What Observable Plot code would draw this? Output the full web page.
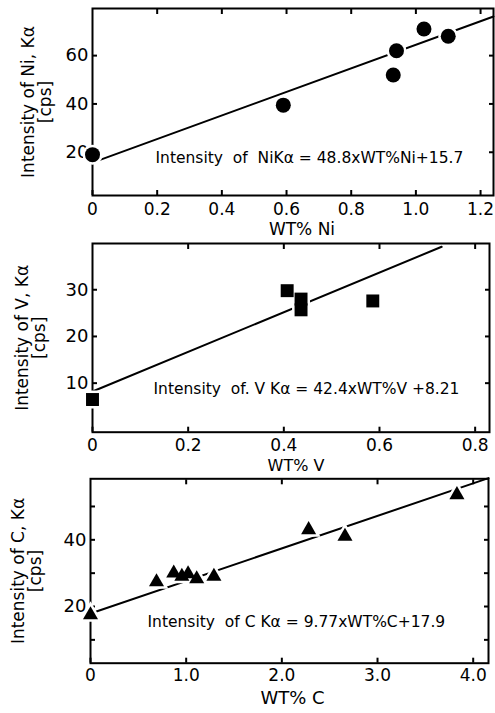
<!DOCTYPE html>
<html><head><meta charset="utf-8">
<script src="https://cdn.jsdelivr.net/npm/d3@7"></script>
<script src="https://cdn.jsdelivr.net/npm/@observablehq/plot@0.6"></script>
<style>
body{margin:0;background:#fff;}
#chart{width:495px;}
#chart svg{display:block;}
</style></head><body><div id="chart"></div>
<script>
// Panel 1: Ni
const niWt  = [0, 0.59, 0.93, 0.94, 1.025, 1.10];
const niInt = [19, 39.5, 52, 62, 71, 68];
const niFitX = [0, 1.24];
const niFitY = [15.7, 76.2];
const niXTicks = [0, 0.2, 0.4, 0.6, 0.8, 1.0, 1.2];
const niYTicks = [20, 40, 60];
const niYLabels = [20, 40, 60];
const niYTitle = "Intensity of Ni, Kα\n[cps]";
const niXTitle = "WT% Ni";
const niEq = "Intensity  of  NiKα = 48.8xWT%Ni+15.7";

// Panel 2: V
const vWt  = [0, 0.407, 0.436, 0.436, 0.586];
const vInt = [6.5, 29.8, 28, 25.7, 27.6];
const vFitX = [0, 0.73];
const vFitY = [8.21, 39.2];
const vXTicks = [0, 0.2, 0.4, 0.6, 0.8];
const vYTicks = [10, 20, 30];
const vYLabels = [10, 20, 30];
const vYTitle = "Intensity of V, Kα\n[cps]";
const vXTitle = "WT% V";
const vEq = "Intensity  of. V Kα = 42.4xWT%V +8.21";

// Panel 3: C
const cWt  = [0, 0.69, 0.87, 0.955, 1.02, 1.11, 1.29, 2.28, 2.66, 3.83];
const cInt = [17.5, 27.4, 30, 29, 29.8, 28.3, 29, 43, 41, 53.5];
const cFitX = [0, 4.16];
const cFitY = [17.9, 58.5];
const cXTicks = [0, 1, 2, 3, 4];
const cYTicks = [10, 20, 30, 40, 50];
const cYLabels = [20, 40];
const cYTitle = "Intensity of C, Kα\n[cps]";
const cXTitle = "WT% C";
const cEq = "Intensity  of C Kα = 9.77xWT%C+17.9";

const FONT = "DejaVu Sans";

function panel(cfg) {
  const pts = cfg.x.map((x, i) => ({x, y: cfg.y[i]}));
  const fit = cfg.fitX.map((x, i) => ({x, y: cfg.fitY[i]}));
  const fmtX = d => d === 0 ? "0" : d.toFixed(1);
  return Plot.plot({
    width: 495,
    height: cfg.height,
    marginTop: cfg.mt, marginBottom: cfg.mb, marginLeft: cfg.ml, marginRight: cfg.mr,
    style: {fontFamily: FONT, background: "#fff", color: "#000", overflow: "hidden"},
    x: {domain: cfg.xDomain},
    y: {domain: cfg.yDomain},
    marks: [
      Plot.frame({stroke: "#000", strokeWidth: 2}),
      Plot.axisX({anchor: "bottom", ticks: cfg.xTicks, tickSize: -5, tickPadding: 5 + cfg.xlGap, tickFormat: fmtX,
                  strokeWidth: 2, fontSize: 17, label: null}),
      Plot.axisX({anchor: "top", ticks: cfg.topTicks, tickSize: -5, tickFormat: () => "",
                  strokeWidth: 2, label: null}),
      Plot.axisY({anchor: "left", ticks: cfg.yTicks, tickSize: -5, tickPadding: 9,
                  tickFormat: d => cfg.yLabels.includes(d) ? String(d) : "",
                  strokeWidth: 2, fontSize: 18, label: null}),
      Plot.axisY({anchor: "right", ticks: cfg.yTicks, tickSize: -5, tickFormat: () => "",
                  strokeWidth: 2, label: null}),
      Plot.line(fit, {x: "x", y: "y", stroke: "#000", strokeWidth: 2}),
      Plot.dot(pts, {x: "x", y: "y", symbol: cfg.symbol, r: cfg.r, fill: "#fff", stroke: "#fff", strokeWidth: 5}),
      Plot.dot(pts, {x: "x", y: "y", symbol: cfg.symbol, r: cfg.r, fill: "#000", stroke: "none"}),
      Plot.text([cfg.yTitle], {text: d => d, frameAnchor: "left", textAnchor: "middle", lineAnchor: "middle",
                  rotate: -90, dx: cfg.ytDx, lineHeight: 1.0, fontSize: 17, fill: "#000"}),
      Plot.text([cfg.xTitle], {text: d => d, frameAnchor: "bottom", dx: cfg.xtDx, dy: cfg.xtDy,
                  lineAnchor: "top", fontSize: cfg.xtFont, fill: "#000"}),
      Plot.text([cfg.eq], {text: d => d, frameAnchor: "bottom-left", textAnchor: "start",
                  dx: cfg.eqDx, dy: cfg.eqDy, fontSize: 15.5, fill: "#000"})
    ]
  });
}

const root = document.getElementById("chart");
root.append(panel({
  x: niWt, y: niInt, fitX: niFitX, fitY: niFitY,
  height: 240, mt: 8, mb: 45, ml: 92, mr: 2,
  xDomain: [0, 1.24], yDomain: [2.1, 79.5],
  xTicks: niXTicks, topTicks: niXTicks.slice(1), yTicks: niYTicks, yLabels: niYLabels,
  symbol: "circle", r: 7.5, xlGap: 7,
  yTitle: niYTitle, ytDx: -55.5, xTitle: niXTitle, xtDx: 9, xtDy: 27, xtFont: 17,
  eq: niEq, eqDx: 63, eqDy: -33
}));
root.append(panel({
  x: vWt, y: vInt, fitX: vFitX, fitY: vFitY,
  height: 234, mt: 3, mb: 42.3, ml: 92, mr: 6,
  xDomain: [0, 0.83], yDomain: [-0.5, 39.9],
  xTicks: vXTicks, topTicks: vXTicks.slice(1), yTicks: vYTicks, yLabels: vYLabels,
  symbol: "square", r: 7.3, xlGap: 7,
  yTitle: vYTitle, ytDx: -61, xTitle: vXTitle, xtDx: 5, xtDy: 27, xtFont: 16,
  eq: vEq, eqDx: 61, eqDy: -38
}));
root.append(panel({
  x: cWt, y: cInt, fitX: cFitX, fitY: cFitY,
  height: 239, mt: 4.3, mb: 50.3, ml: 90, mr: 7,
  xDomain: [0, 4.16], yDomain: [3, 58.3],
  xTicks: cXTicks, topTicks: cXTicks.slice(1), yTicks: cYTicks, yLabels: cYLabels,
  symbol: "triangle", r: 5.6, xlGap: 5.5,
  yTitle: cYTitle, ytDx: -63, xTitle: cXTitle, xtDx: 3, xtDy: 28, xtFont: 18,
  eq: cEq, eqDx: 57, eqDy: -36
}));
</script></body></html>
